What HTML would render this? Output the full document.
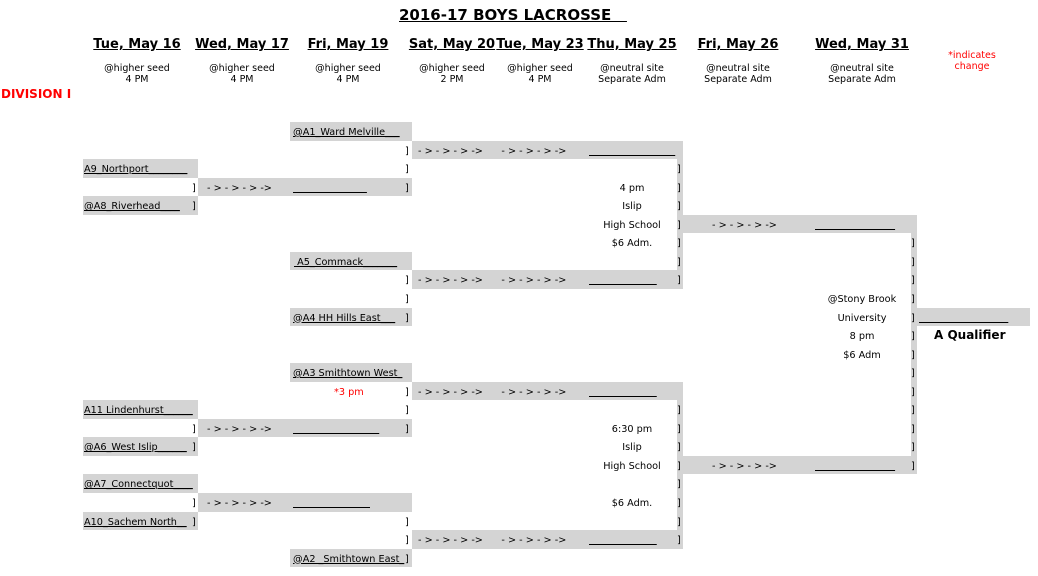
<!DOCTYPE html>
<html><head><meta charset="utf-8"><style>
body{margin:0;width:1038px;height:576px;background:#fff;position:relative;overflow:hidden;font-family:"DejaVu Sans","Liberation Sans",sans-serif;color:#000}
.g{position:absolute;background:#d4d4d4}
.t{position:absolute;font-size:9.7px;line-height:18.55px;white-space:pre;margin-top:2px}
.u{text-decoration:underline}
.c{text-align:center}
.h{position:absolute;font-size:13px;font-weight:bold;text-decoration:underline;white-space:nowrap;transform:translateX(-50%);top:37px}
.s{position:absolute;font-size:9.5px;line-height:11px;text-align:center;transform:translateX(-50%);top:63px;white-space:nowrap}
</style></head><body>
<div style="position:absolute;left:399px;top:6px;font-size:15px;font-weight:bold;text-decoration:underline;white-space:pre">2016-17 BOYS LACROSSE   </div>
<div class="h" style="left:137px">Tue, May 16</div>
<div class="h" style="left:242px">Wed, May 17</div>
<div class="h" style="left:348px">Fri, May 19</div>
<div class="h" style="left:452px">Sat, May 20</div>
<div class="h" style="left:540px">Tue, May 23</div>
<div class="h" style="left:632px">Thu, May 25</div>
<div class="h" style="left:738px">Fri, May 26</div>
<div class="h" style="left:862px">Wed, May 31</div>
<div class="s" style="left:137px">@higher seed<br>4 PM</div>
<div class="s" style="left:242px">@higher seed<br>4 PM</div>
<div class="s" style="left:348px">@higher seed<br>4 PM</div>
<div class="s" style="left:452px">@higher seed<br>2 PM</div>
<div class="s" style="left:540px">@higher seed<br>4 PM</div>
<div class="s" style="left:632px">@neutral site<br>Separate Adm</div>
<div class="s" style="left:738px">@neutral site<br>Separate Adm</div>
<div class="s" style="left:862px">@neutral site<br>Separate Adm</div>
<div class="s" style="left:972px;top:50px;color:#f00">*indicates<br>change</div>
<div style="position:absolute;left:1px;top:87px;font-size:12px;font-weight:bold;color:#f00">DIVISION I</div>

<div class="g" style="left:290px;top:122px;width:122px;height:18.6px"></div>
<div class="g" style="left:412px;top:140.5px;width:271px;height:18.6px"></div>
<div class="g" style="left:83px;top:159.1px;width:115px;height:18.6px"></div>
<div class="g" style="left:198px;top:177.6px;width:214px;height:18.6px"></div>
<div class="g" style="left:83px;top:196.2px;width:115px;height:18.6px"></div>
<div class="g" style="left:683px;top:214.7px;width:234px;height:18.6px"></div>
<div class="g" style="left:290px;top:251.8px;width:122px;height:18.6px"></div>
<div class="g" style="left:412px;top:270.4px;width:271px;height:18.6px"></div>
<div class="g" style="left:290px;top:307.5px;width:122px;height:18.6px"></div>
<div class="g" style="left:917px;top:307.5px;width:113px;height:18.6px"></div>
<div class="g" style="left:290px;top:363.1px;width:122px;height:18.6px"></div>
<div class="g" style="left:412px;top:381.7px;width:271px;height:18.6px"></div>
<div class="g" style="left:83px;top:400.2px;width:115px;height:18.6px"></div>
<div class="g" style="left:198px;top:418.8px;width:214px;height:18.6px"></div>
<div class="g" style="left:83px;top:437.3px;width:115px;height:18.6px"></div>
<div class="g" style="left:683px;top:455.9px;width:234px;height:18.6px"></div>
<div class="g" style="left:83px;top:474.4px;width:115px;height:18.6px"></div>
<div class="g" style="left:198px;top:493px;width:214px;height:18.6px"></div>
<div class="g" style="left:83px;top:511.5px;width:115px;height:18.6px"></div>
<div class="g" style="left:412px;top:530.1px;width:271px;height:18.6px"></div>
<div class="g" style="left:290px;top:548.6px;width:122px;height:18.6px"></div>
<div class="g" style="left:677px;top:159px;width:6px;height:112px"></div>
<div class="g" style="left:677px;top:400px;width:6px;height:131px"></div>
<div class="g" style="left:911px;top:233px;width:6px;height:223px"></div>

<div class="t u" style="left:84px;top:159.1px">A9_Northport________</div>
<div class="t u" style="left:84px;top:196.2px">@A8_Riverhead____</div>
<div class="t u" style="left:84px;top:400.2px">A11 Lindenhurst______</div>
<div class="t u" style="left:84px;top:437.3px">@A6_West Islip______</div>
<div class="t u" style="left:84px;top:474.4px">@A7_Connectquot____</div>
<div class="t u" style="left:84px;top:511.5px">A10_Sachem North__</div>
<div class="t" style="left:192px;top:177.6px">]</div>
<div class="t" style="left:192px;top:196.2px">]</div>
<div class="t" style="left:192px;top:418.8px">]</div>
<div class="t" style="left:192px;top:437.3px">]</div>
<div class="t" style="left:192px;top:493px">]</div>
<div class="t" style="left:192px;top:511.5px">]</div>
<div class="t" style="left:207px;top:177.6px">- &gt; - &gt; - &gt; -&gt;</div>
<div class="t" style="left:207px;top:418.8px">- &gt; - &gt; - &gt; -&gt;</div>
<div class="t" style="left:207px;top:493px">- &gt; - &gt; - &gt; -&gt;</div>
<div class="t u" style="left:293px;top:122px">@A1_Ward Melville___</div>
<div class="t u" style="left:293px;top:177.6px">                        </div>
<div class="t u" style="left:294px;top:251.8px"> A5_Commack_______</div>
<div class="t u" style="left:293px;top:307.5px">@A4 HH Hills East___</div>
<div class="t u" style="left:293px;top:363.1px">@A3 Smithtown West_</div>
<div class="t" style="left:334px;top:381.7px;color:#f00">*3 pm</div>
<div class="t u" style="left:293px;top:418.8px">                            </div>
<div class="t u" style="left:293px;top:493px">                         </div>
<div class="t u" style="left:293px;top:548.6px">@A2 _Smithtown East_</div>
<div class="t" style="left:405px;top:140.5px">]</div>
<div class="t" style="left:405px;top:159.1px">]</div>
<div class="t" style="left:405px;top:177.6px">]</div>
<div class="t" style="left:405px;top:270.4px">]</div>
<div class="t" style="left:405px;top:288.9px">]</div>
<div class="t" style="left:405px;top:307.5px">]</div>
<div class="t" style="left:405px;top:381.7px">]</div>
<div class="t" style="left:405px;top:400.2px">]</div>
<div class="t" style="left:405px;top:418.8px">]</div>
<div class="t" style="left:405px;top:511.5px">]</div>
<div class="t" style="left:405px;top:530.1px">]</div>
<div class="t" style="left:405px;top:548.6px">]</div>
<div class="t" style="left:418px;top:140.5px">- &gt; - &gt; - &gt; -&gt;      - &gt; - &gt; - &gt; -&gt;</div>
<div class="t" style="left:418px;top:270.4px">- &gt; - &gt; - &gt; -&gt;      - &gt; - &gt; - &gt; -&gt;</div>
<div class="t" style="left:418px;top:381.7px">- &gt; - &gt; - &gt; -&gt;      - &gt; - &gt; - &gt; -&gt;</div>
<div class="t" style="left:418px;top:530.1px">- &gt; - &gt; - &gt; -&gt;      - &gt; - &gt; - &gt; -&gt;</div>
<div class="t u" style="left:589px;top:140.5px">                            </div>
<div class="t u" style="left:589px;top:270.4px">                      </div>
<div class="t u" style="left:589px;top:381.7px">                      </div>
<div class="t u" style="left:589px;top:530.1px">                      </div>
<div class="t c" style="left:582px;width:100px;top:177.6px">4 pm</div>
<div class="t c" style="left:582px;width:100px;top:196.2px">Islip</div>
<div class="t c" style="left:582px;width:100px;top:214.7px">High School</div>
<div class="t c" style="left:582px;width:100px;top:233.3px">$6 Adm.</div>
<div class="t c" style="left:582px;width:100px;top:418.8px">6:30 pm</div>
<div class="t c" style="left:582px;width:100px;top:437.3px">Islip</div>
<div class="t c" style="left:582px;width:100px;top:455.9px">High School</div>
<div class="t c" style="left:582px;width:100px;top:493px">$6 Adm.</div>
<div class="t" style="left:677px;top:159.1px">]</div>
<div class="t" style="left:677px;top:177.6px">]</div>
<div class="t" style="left:677px;top:196.2px">]</div>
<div class="t" style="left:677px;top:214.7px">]</div>
<div class="t" style="left:677px;top:233.3px">]</div>
<div class="t" style="left:677px;top:251.8px">]</div>
<div class="t" style="left:677px;top:270.4px">]</div>
<div class="t" style="left:677px;top:400.2px">]</div>
<div class="t" style="left:677px;top:418.8px">]</div>
<div class="t" style="left:677px;top:437.3px">]</div>
<div class="t" style="left:677px;top:455.9px">]</div>
<div class="t" style="left:677px;top:474.4px">]</div>
<div class="t" style="left:677px;top:493px">]</div>
<div class="t" style="left:677px;top:511.5px">]</div>
<div class="t" style="left:677px;top:530.1px">]</div>
<div class="t" style="left:712px;top:214.7px">- &gt; - &gt; - &gt; -&gt;</div>
<div class="t" style="left:712px;top:455.9px">- &gt; - &gt; - &gt; -&gt;</div>
<div class="t u" style="left:815px;top:214.7px">                          </div>
<div class="t u" style="left:815px;top:455.9px">                          </div>
<div class="t c" style="left:812px;width:100px;top:288.9px">@Stony Brook</div>
<div class="t c" style="left:812px;width:100px;top:307.5px">University</div>
<div class="t c" style="left:812px;width:100px;top:326px">8 pm</div>
<div class="t c" style="left:812px;width:100px;top:344.6px">$6 Adm</div>
<div class="t" style="left:911px;top:233.3px">]</div>
<div class="t" style="left:911px;top:251.8px">]</div>
<div class="t" style="left:911px;top:270.4px">]</div>
<div class="t" style="left:911px;top:288.9px">]</div>
<div class="t" style="left:911px;top:307.5px">]</div>
<div class="t" style="left:911px;top:326px">]</div>
<div class="t" style="left:911px;top:344.6px">]</div>
<div class="t" style="left:911px;top:363.1px">]</div>
<div class="t" style="left:911px;top:381.7px">]</div>
<div class="t" style="left:911px;top:400.2px">]</div>
<div class="t" style="left:911px;top:418.8px">]</div>
<div class="t" style="left:911px;top:437.3px">]</div>
<div class="t" style="left:911px;top:455.9px">]</div>
<div class="t u" style="left:919px;top:307.5px">                             </div>
<div style="position:absolute;left:934px;top:328px;font-size:12px;font-weight:bold">A Qualifier</div>
</body></html>
